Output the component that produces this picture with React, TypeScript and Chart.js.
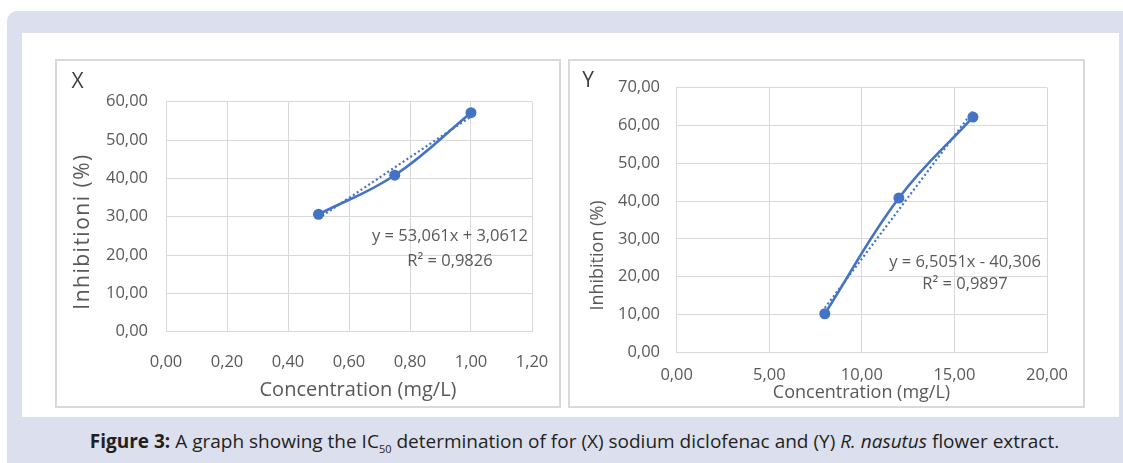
import { useEffect, useRef } from "react";
import { Chart, registerables } from "chart.js";

Chart.register(...registerables);

const FONT = "'Open Sans', sans-serif";
const BLUE = "#4472c4";
const GRID = "#d9d9d9";
const TEXT = "#595959";

// ---- Panel X : sodium diclofenac ----
const xConcentration = [0.5, 0.75, 1.0];
const xInhibition = [30.61, 40.82, 57.14];
const xTrendSlope = 53.061;
const xTrendIntercept = 3.0612;
const xEquation = "y = 53,061x + 3,0612";
const xRSquared = "R² = 0,9826";
const xXAxisRange = [0, 1.2, 0.2];
const xYAxisRange = [0, 60, 10];

// ---- Panel Y : R. nasutus flower extract ----
const yConcentration = [8, 12, 16];
const yInhibition = [10.2, 40.82, 62.24];
const yTrendSlope = 6.5051;
const yTrendIntercept = -40.306;
const yEquation = "y = 6,5051x - 40,306";
const yRSquared = "R² = 0,9897";
const yXAxisRange = [0, 20, 5];
const yYAxisRange = [0, 70, 10];

const fmt = (v: number) => Number(v).toFixed(2).replace(".", ",");

const overlayPlugin = {
  id: "overlay",
  afterDraw(chart: any, _args: any, opts: any) {
    const ctx = chart.ctx as CanvasRenderingContext2D;
    const xs = chart.scales.x;
    const ys = chart.scales.y;
    ctx.save();
    for (const t of opts.texts || []) {
      const px = t.data ? xs.getPixelForValue(t.x) : t.x;
      const py = t.data ? ys.getPixelForValue(t.y) : t.y;
      ctx.save();
      ctx.translate(px, py);
      if (t.rotate) ctx.rotate(t.rotate);
      ctx.font = `${t.size}px ${FONT}`;
      (ctx as any).letterSpacing = `${t.spacing || 0}px`;
      ctx.fillStyle = t.color || TEXT;
      ctx.textAlign = "center";
      ctx.textBaseline = "middle";
      ctx.fillText(t.text, 0, 0);
      ctx.restore();
    }
    ctx.restore();
  },
};

function makeConfig(p: any) {
  const first = p.xs[0];
  const last = p.xs[p.xs.length - 1];
  return {
    type: "scatter",
    data: {
      datasets: [
        {
          label: p.name,
          data: p.xs.map((x: number, i: number) => ({ x, y: p.ys[i] })),
          showLine: true,
          tension: 0.4,
          borderColor: BLUE,
          backgroundColor: BLUE,
          borderWidth: 2.6,
          pointRadius: 5.5,
          pointBackgroundColor: BLUE,
          pointBorderWidth: 0,
        },
        {
          label: "Linear trendline",
          data: [first, last].map((x: number) => ({ x, y: p.slope * x + p.intercept })),
          showLine: true,
          tension: 0,
          borderColor: BLUE,
          borderWidth: 2.2,
          borderDash: [2, 2.6],
          pointRadius: 0,
        },
      ],
    },
    options: {
      animation: false,
      responsive: false,
      events: [],
      layout: { padding: { top: p.padTop, right: p.padRight, bottom: 0, left: 0 } },
      plugins: {
        legend: { display: false },
        tooltip: { enabled: false },
        overlay: { texts: p.texts },
      },
      scales: {
        x: {
          type: "linear",
          min: p.xRange[0],
          max: p.xRange[1],
          ticks: {
            stepSize: p.xRange[2],
            padding: p.xTickPad,
            color: TEXT,
            font: { family: FONT, size: 16.5 },
            callback: (v: number) => fmt(v),
            maxRotation: 0,
          },
          grid: { color: GRID, lineWidth: 1, drawTicks: false },
          border: { color: GRID, width: 1 },
          afterFit: (s: any) => {
            s.height = p.xAxisH;
            s.paddingLeft = 0;
            s.paddingRight = 0;
          },
        },
        y: {
          type: "linear",
          min: p.yRange[0],
          max: p.yRange[1],
          ticks: {
            stepSize: p.yRange[2],
            padding: p.yTickPad,
            color: TEXT,
            font: { family: FONT, size: 16.5 },
            callback: (v: number) => fmt(v),
          },
          grid: { color: GRID, lineWidth: 1, drawTicks: false },
          border: { color: GRID, width: 1 },
          afterFit: (s: any) => {
            s.width = p.yAxisW;
            s.paddingTop = 0;
            s.paddingBottom = 0;
          },
        },
      },
    },
    plugins: [overlayPlugin],
  };
}

const leftParams = {
  name: "Sodium diclofenac",
  xs: xConcentration,
  ys: xInhibition,
  slope: xTrendSlope,
  intercept: xTrendIntercept,
  xRange: xXAxisRange,
  yRange: xYAxisRange,
  padTop: 42.7,
  padRight: 29,
  xAxisH: 76.3,
  yAxisW: 111,
  xTickPad: 20.4,
  yTickPad: 18,
  texts: [
    { text: "X", x: 22.5, y: 23, size: 21, color: "#404040" },
    { text: "Inhibitioni (%)", x: 28.5, y: 172.5, size: 21, spacing: 1.5, rotate: -Math.PI / 2 },
    { text: "Concentration (mg/L)", x: 303, y: 331, size: 20 },
    { text: xEquation, x: 0.931, y: 24.97, size: 16.5, data: true },
    { text: xRSquared, x: 0.931, y: 18.26, size: 16.5, data: true },
  ],
};

const rightParams = {
  name: "R. nasutus flower extract",
  xs: yConcentration,
  ys: yInhibition,
  slope: yTrendSlope,
  intercept: yTrendIntercept,
  xRange: yXAxisRange,
  yRange: yYAxisRange,
  padTop: 28.7,
  padRight: 38,
  xAxisH: 55.7,
  yAxisW: 108.7,
  xTickPad: 12.8,
  yTickPad: 16.7,
  texts: [
    { text: "Y", x: 20, y: 22.5, size: 21, color: "#404040" },
    { text: "Inhibition (%)", x: 29.5, y: 196.5, size: 18, rotate: -Math.PI / 2 },
    { text: "Concentration (mg/L)", x: 293.5, y: 334, size: 18 },
    { text: yEquation, x: 15.57, y: 23.7, size: 16.5, data: true },
    { text: yRSquared, x: 15.57, y: 18.06, size: 16.5, data: true },
  ],
};

function ChartBox({ params, left, top, width, height }: any) {
  const ref = useRef<HTMLCanvasElement | null>(null);
  useEffect(() => {
    if (!ref.current) return;
    const chart = new Chart(ref.current, makeConfig(params) as any);
    return () => chart.destroy();
  }, []);
  return (
    <>
      <div
        style={{
          position: "absolute",
          left,
          top,
          width,
          height,
          border: "2px solid #d9d9d9",
          boxSizing: "border-box",
          background: "#fff",
        }}
      />
      <canvas
        ref={ref}
        width={width}
        height={height}
        style={{ position: "absolute", left, top, width, height }}
      />
    </>
  );
}

export default function App() {
  return (
    <div
      style={{
        position: "absolute",
        left: 0,
        top: 0,
        width: 1123,
        height: 463,
        background: "#fff",
        overflow: "hidden",
      }}
    >
      <div
        style={{
          position: "absolute",
          left: 7,
          top: 11,
          width: 1116,
          height: 452,
          background: "#dcdfee",
          borderTopLeftRadius: 10,
        }}
      />
      <div
        style={{
          position: "absolute",
          left: 22,
          top: 33,
          width: 1097,
          height: 384,
          background: "#fff",
        }}
      />
      <ChartBox params={leftParams} left={55} top={59} width={506} height={349} />
      <ChartBox params={rightParams} left={568} top={59} width={517} height={349} />
      <div
        style={{
          position: "absolute",
          left: 26,
          top: 428,
          width: 1097,
          textAlign: "center",
          fontFamily: FONT,
          fontSize: 19,
          lineHeight: "26px",
          color: "#231f20",
          whiteSpace: "nowrap",
        }}
      >
        <b>Figure 3:</b> A graph showing the IC
        <sub style={{ fontSize: 11, verticalAlign: "-5px" }}>50</sub> determination of for (X) sodium
        diclofenac and (Y) <i>R. nasutus</i> flower extract.
      </div>
    </div>
  );
}
